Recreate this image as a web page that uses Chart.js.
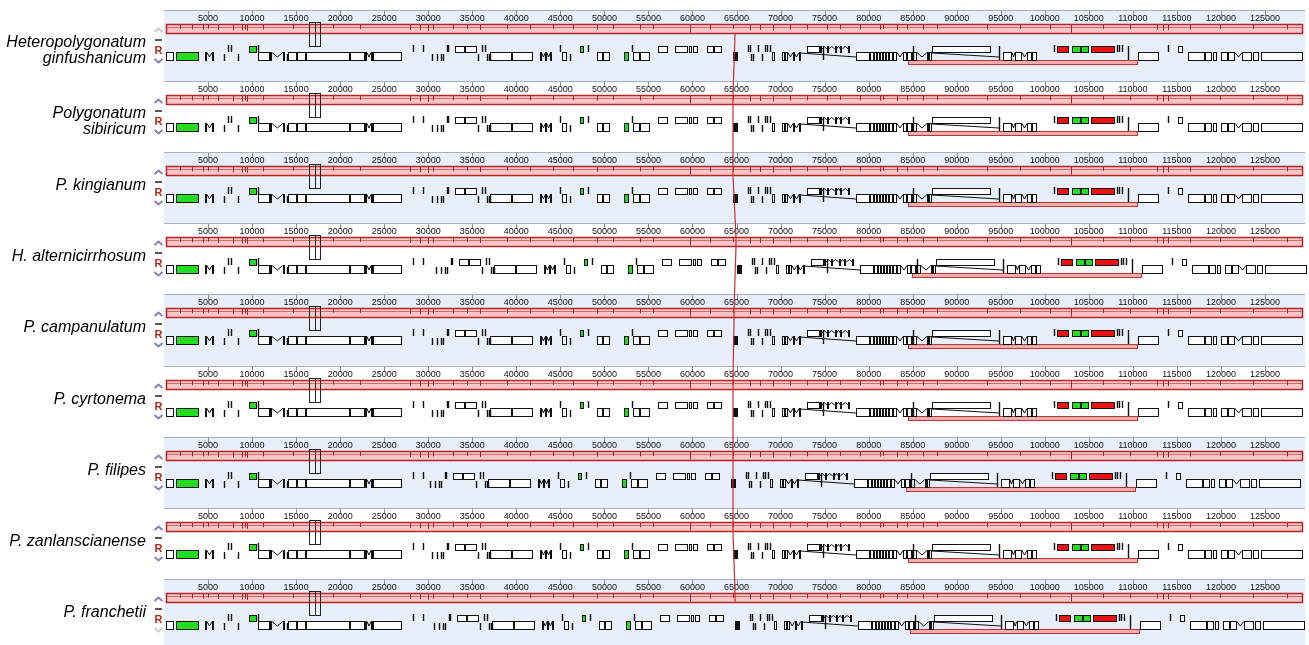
<!DOCTYPE html>
<html>
<head>
<meta charset="utf-8">
<script src="https://cdn.jsdelivr.net/npm/chart.js@4.4.1/dist/chart.umd.min.js"></script>
<style>
  html, body { margin: 0; padding: 0; background: #ffffff; width: 1309px; height: 645px; overflow: hidden; }
  #wrap { position: relative; width: 1309px; height: 650px; }
  canvas { display: block; }
</style>
</head>
<body>
<div id="wrap"><canvas id="mauve" width="1309" height="650"></canvas></div>
<script>
// ---- genomes (one panel each, top to bottom) ----
const genomes = [
  ["Heteropolygonatum", "ginfushanicum"],
  ["Polygonatum", "sibiricum"],
  ["P. kingianum"],
  ["H. alternicirrhosum"],
  ["P. campanulatum"],
  ["P. cyrtonema"],
  ["P. filipes"],
  ["P. zanlanscianense"],
  ["P. franchetii"]
];

// ruler tick labels (bp)
const rulerTicks = [5000, 10000, 15000, 20000, 25000, 30000, 35000, 40000, 45000, 50000,
  55000, 60000, 65000, 70000, 75000, 80000, 85000, 90000, 95000, 100000,
  105000, 110000, 115000, 120000, 125000];

// the single collinear block, and where its boundary sits in each genome (bp)
const lcbBlock = [230, 129300];
const lcbBoundary = [64830, 64600, 64600, 64940, 64720, 64600, 64600, 64600, 64830];

// small positional offset of each genome's annotation relative to the first (bp)
const panelShift = [0, 0, 0, 450, 0, 0, -230, 0, 200];

// similarity profile dips: [position bp, drop in similarity 0..1]
const simDips = [
  [1820, 0.3], [3180, 0.35], [4430, 0.4], [5000, 0.25], [6130, 0.45], [7830, 0.5], [8860, 0.55],
  [9200, 0.4], [9420, 0.6], [11240, 0.35], [14650, 0.3], [19190, 0.25], [22250, 0.3],
  [27930, 0.45], [29060, 0.5], [29970, 0.6], [30540, 0.4], [32810, 0.35], [34400, 0.3],
  [35880, 0.45], [38940, 0.3], [41550, 0.35], [44160, 0.3], [46430, 0.35], [49160, 0.4],
  [50970, 0.3], [54040, 0.35], [55520, 0.3], [59720, 0.85], [61990, 0.4], [64600, 0.3],
  [66530, 0.5], [67660, 0.45], [69140, 0.55], [71070, 0.4], [73000, 0.35], [75270, 0.4],
  [76740, 0.3], [79020, 0.35], [81290, 0.4], [81630, 0.3], [83220, 0.45], [84350, 0.35],
  [86170, 0.4], [87760, 0.3], [93440, 0.35], [97180, 0.3], [100590, 0.35], [102970, 0.85],
  [106600, 0.3], [109670, 0.35], [112730, 0.4], [113420, 0.55], [113980, 0.5], [116480, 0.4],
  [119890, 0.3], [123630, 0.3], [127490, 0.35]
];

// ---- annotated features [start, end] in bp ----
const genesUpper = [
  [33040, 34170], [34170, 35540], [56080, 57220], [58010, 59480], [59600, 59940], [60060, 60630],
  [61650, 62440], [62440, 63350], [73000, 74480], [74480, 74700], [75250, 75450], [76150, 76350],
  [76800, 77000], [77700, 77900], [87190, 93890], [115120, 115690]
];
const genesLower = [
  [230, 1140], [4650, 4880], [5450, 5680], [10670, 12030], [12030, 12260], [13480, 13700],
  [14080, 15100], [15100, 16120], [16120, 21120], [21120, 22820], [22820, 23040], [23500, 23730],
  [23730, 27020], [37010, 39510], [39510, 41890], [42690, 42860], [43300, 43450], [43880, 44050],
  [45180, 45750], [49160, 49840], [49840, 50630], [53240, 54040], [54040, 55170],
  [64600, 64790], [64790, 64980], [64980, 65170], [69030, 69370], [70160, 70500], [70500, 70840],
  [71400, 71520], [72090, 72200], [78560, 80150], [80150, 80600], [80600, 80940], [80940, 81290],
  [81290, 81630], [81630, 81970], [81970, 82310], [82310, 82760], [82760, 83220], [83900, 84400],
  [84400, 84970], [84970, 85490], [86620, 86900], [86900, 87190], [95250, 96270], [96610, 97410],
  [97980, 98550], [98550, 99110], [110580, 112960], [116250, 118180], [118180, 118980],
  [119090, 119540], [120000, 120800], [120800, 121600], [122390, 123520], [123640, 124310],
  [124540, 129300]
];
const rnaUpper = [[9650, 10560], [47230, 47680], [103080, 104100], [104100, 105010]];
const rnaLower = [[1360, 3970], [52220, 52790]];
const redUpper = [[101380, 102740], [105240, 107970]];
const ticksUpper = [7270, 7610, 10670, 28270, 29400, 32130, 32240, 36100, 36440, 44960, 48140,
  53130, 66300, 66530, 67440, 68230, 68460, 68800, 101040, 108190, 108420, 108760, 113980];
const ticksLower = [6810, 8400, 13960, 30430, 31000, 31450, 31680, 35650, 36670, 36900, 37010,
  46090, 66650, 66870, 67890];
const ticksTall = [74820, 85040, 94800, 109440];
const intronsLower = [[4880, 5450], [12260, 13480], [23040, 23500], [42860, 43300], [43450, 43880],
  [70840, 71400], [71520, 72090], [83220, 83900], [85490, 86620], [96270, 96610], [97410, 97980],
  [121600, 122390]];
const intronsUpper = [[74700, 75250], [75450, 76150], [76350, 76800], [77000, 77700]];
const spanLines = [[72200, 78560], [87190, 94800]];
const repeatSpan = [[84470, 110580]];
const repeatMark = [[16460, 17090], [17090, 17710]];

// ---- styling ----
const PANEL_BLUE = '#e8effb';
const BAND_FILL = '#fbc6c6';
const BAND_EDGE = '#b5262a';
const GREEN = '#22dd22';
const RED = '#ee1111';
const SHIFT_FROM = 30000;
// vertical offsets inside one panel (px from panel top)
const OFF = { tickTop: 1, tickBot: 5, label: 8.5, bandTop: 14, bandBot: 24, markTop: 12, markBot: 36,
  upTop: 36, mid: 42, lowBot: 50, pinkTop: 50, pinkBot: 55 };

const mauvePanels = {
  id: 'mauvePanels',
  beforeDatasetsDraw(chart) {
    const { ctx, chartArea, scales: { x, y } } = chart;
    const L = chartArea.left, R = chartArea.right;
    ctx.save();
    genomes.forEach((names, i) => {
      const T = Math.round(y.getPixelForValue(i));
      const B = Math.round(y.getPixelForValue(i + 1));
      const sh = panelShift[i];
      const X = bp => x.getPixelForValue(bp >= SHIFT_FROM ? bp + sh : bp);
      const Xr = bp => Math.round(X(bp));
      const Xp = bp => Math.round(x.getPixelForValue(bp));

      // panel background and top rule
      ctx.fillStyle = i % 2 === 0 ? PANEL_BLUE : '#ffffff';
      ctx.fillRect(L, T, R - L, B - T);
      ctx.strokeStyle = '#a9afba';
      ctx.lineWidth = 1;
      ctx.beginPath(); ctx.moveTo(L, T + 0.5); ctx.lineTo(R, T + 0.5); ctx.stroke();

      // ruler
      ctx.strokeStyle = '#8c8c8c';
      ctx.beginPath();
      rulerTicks.forEach(t => {
        const px = Xp(t) + 0.5;
        ctx.moveTo(px, T + OFF.tickTop); ctx.lineTo(px, T + OFF.tickBot + 1);
      });
      ctx.stroke();
      ctx.fillStyle = '#111111';
      ctx.font = '9px "Liberation Sans", Arial, sans-serif';
      ctx.textAlign = 'center';
      ctx.textBaseline = 'middle';
      rulerTicks.forEach(t => ctx.fillText(String(t), x.getPixelForValue(t), T + OFF.label));

      // collinear block with similarity profile
      const b0 = Xp(lcbBlock[0]), b1 = Xp(lcbBlock[1]);
      ctx.fillStyle = BAND_FILL;
      ctx.fillRect(b0, T + OFF.bandTop, b1 - b0, OFF.bandBot - OFF.bandTop);
      ctx.strokeStyle = 'rgba(170,35,35,0.55)';
      ctx.beginPath(); ctx.moveTo(b0, T + OFF.bandTop + 3.5); ctx.lineTo(b1, T + OFF.bandTop + 3.5); ctx.stroke();
      ctx.strokeStyle = '#a82525';
      ctx.beginPath();
      simDips.forEach(([p, d]) => {
        const px = Xp(p) + 0.5;
        ctx.moveTo(px, T + OFF.bandTop + 1);
        ctx.lineTo(px, T + OFF.bandTop + 3 + d * 6.5);
      });
      ctx.stroke();
      ctx.strokeStyle = BAND_EDGE;
      ctx.lineWidth = 1.5;
      ctx.strokeRect(b0 + 0.5, T + OFF.bandTop + 0.5, b1 - b0 - 1, OFF.bandBot - OFF.bandTop - 1);
      ctx.lineWidth = 1;

      // repeat marker crossing the block
      ctx.strokeStyle = '#222222';
      repeatMark.forEach(([a, c]) => {
        ctx.strokeRect(Xr(a) + 0.5, T + OFF.markTop + 0.5, Xr(c) - Xr(a), OFF.markBot - OFF.markTop);
      });

      // repeat span bar under the genes
      repeatSpan.forEach(([a, c]) => {
        ctx.fillStyle = '#f3adad';
        ctx.fillRect(Xr(a), T + OFF.pinkTop, Xr(c) - Xr(a), OFF.pinkBot - OFF.pinkTop);
        ctx.strokeStyle = '#b8383a';
        ctx.strokeRect(Xr(a) + 0.5, T + OFF.pinkTop + 0.5, Xr(c) - Xr(a) - 1, OFF.pinkBot - OFF.pinkTop - 1);
      });

      // boxes
      const box = (a, c, top, bot, fill) => {
        const x0 = Xr(a), x1 = Math.max(Xr(c), x0 + 2);
        ctx.fillStyle = fill;
        ctx.fillRect(x0, T + top, x1 - x0, bot - top);
        ctx.strokeStyle = '#111111';
        ctx.strokeRect(x0 + 0.5, T + top + 0.5, x1 - x0 - 1, bot - top - 1);
      };
      genesUpper.forEach(([a, c]) => box(a, c, OFF.upTop, OFF.mid + 1, '#ffffff'));
      genesLower.forEach(([a, c]) => box(a, c, OFF.mid, OFF.lowBot + 1, '#ffffff'));
      rnaUpper.forEach(([a, c]) => box(a, c, OFF.upTop, OFF.mid + 1, GREEN));
      rnaLower.forEach(([a, c]) => box(a, c, OFF.mid, OFF.lowBot + 1, GREEN));
      redUpper.forEach(([a, c]) => box(a, c, OFF.upTop, OFF.mid + 1, RED));

      // short features drawn as bars
      ctx.strokeStyle = '#111111';
      ctx.lineWidth = 1.4;
      ctx.beginPath();
      ticksUpper.forEach(p => { const px = Xr(p) + 0.5; ctx.moveTo(px, T + OFF.upTop - 1); ctx.lineTo(px, T + OFF.mid); });
      ticksLower.forEach(p => { const px = Xr(p) + 0.5; ctx.moveTo(px, T + OFF.mid + 2); ctx.lineTo(px, T + OFF.lowBot + 1); });
      ticksTall.forEach(p => { const px = Xr(p) + 0.5; ctx.moveTo(px, T + OFF.upTop); ctx.lineTo(px, T + OFF.lowBot); });
      ctx.stroke();
      ctx.lineWidth = 1;

      // intron connectors
      ctx.beginPath();
      intronsLower.forEach(([a, c]) => {
        const x0 = X(a), x1 = X(c);
        ctx.moveTo(x0, T + OFF.mid + 0.5); ctx.lineTo((x0 + x1) / 2, T + OFF.mid + 5); ctx.lineTo(x1, T + OFF.mid + 0.5);
      });
      intronsUpper.forEach(([a, c]) => {
        const x0 = X(a), x1 = X(c);
        ctx.moveTo(x0, T + OFF.upTop + 3); ctx.lineTo((x0 + x1) / 2, T + OFF.upTop + 0.5); ctx.lineTo(x1, T + OFF.upTop + 3);
      });
      spanLines.forEach(([a, c]) => {
        ctx.moveTo(X(a), T + OFF.mid + 1); ctx.lineTo(X(c), T + OFF.mid + 5);
      });
      ctx.stroke();

      // side controls
      const cx = 158.5;
      const up = i === 0 ? '#c9c9d2' : '#8585b5';
      const dn = i === genomes.length - 1 ? '#c9c9d2' : '#8585b5';
      ctx.lineWidth = 2;
      ctx.strokeStyle = up;
      ctx.beginPath(); ctx.moveTo(cx - 4, T + 22); ctx.lineTo(cx, T + 18.5); ctx.lineTo(cx + 4, T + 22); ctx.stroke();
      ctx.strokeStyle = dn;
      ctx.beginPath(); ctx.moveTo(cx - 4, T + 49); ctx.lineTo(cx, T + 52.5); ctx.lineTo(cx + 4, T + 49); ctx.stroke();
      ctx.lineWidth = 1.5;
      ctx.strokeStyle = '#222222';
      ctx.beginPath(); ctx.moveTo(cx - 3.5, T + 30); ctx.lineTo(cx + 3.5, T + 30); ctx.stroke();
      ctx.lineWidth = 1;
      ctx.fillStyle = '#b02a1c';
      ctx.font = 'bold 11px "Liberation Sans", Arial, sans-serif';
      ctx.textAlign = 'center';
      ctx.textBaseline = 'middle';
      ctx.fillText('R', cx, T + 40.5);

      // genome name
      ctx.fillStyle = '#000000';
      ctx.font = 'italic 16px "Liberation Sans", Arial, sans-serif';
      ctx.textAlign = 'right';
      if (names.length === 2) {
        ctx.fillText(names[0], 146, T + 33);
        ctx.fillText(names[1], 146, T + 48.5);
      } else {
        ctx.fillText(names[0], 146, T + 34);
      }
    });
    ctx.restore();
  },
  afterDatasetsDraw(chart) {
    // line joining the block boundary across genomes
    const { ctx, scales: { x, y } } = chart;
    ctx.save();
    ctx.strokeStyle = '#c42f32';
    ctx.lineWidth = 1.2;
    ctx.beginPath();
    lcbBoundary.forEach((bp, i) => {
      const T = Math.round(y.getPixelForValue(i));
      const px = x.getPixelForValue(bp);
      if (i === 0) ctx.moveTo(px, T + OFF.bandBot);
      else { ctx.lineTo(px, T + OFF.bandTop); ctx.lineTo(px, T + OFF.bandBot); }
    });
    ctx.stroke();
    ctx.restore();
  }
};

new Chart(document.getElementById('mauve'), {
  type: 'scatter',
  data: { datasets: [] },
  options: {
    responsive: false,
    animation: false,
    devicePixelRatio: 1,
    layout: { padding: { left: 164, right: 4, top: 10, bottom: 0 } },
    scales: {
      x: { type: 'linear', min: 0, max: 129540, display: false },
      y: { type: 'linear', min: 0, max: genomes.length, reverse: true, display: false }
    },
    plugins: { legend: { display: false }, tooltip: { enabled: false } }
  },
  plugins: [mauvePanels]
});
</script>
</body>
</html>
